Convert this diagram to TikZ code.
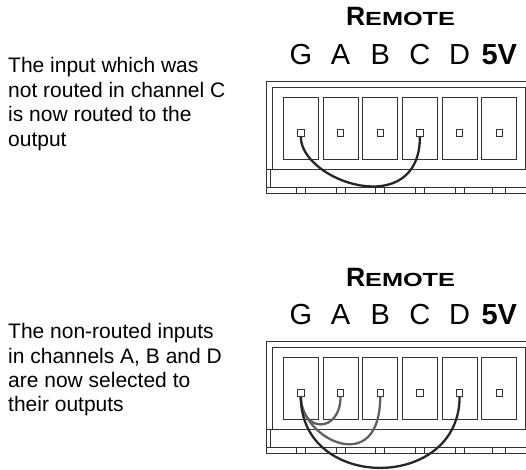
\documentclass[tikz,border=0pt]{standalone}
\usepackage{fontspec}
\setmainfont{Liberation Sans}
\usepackage{graphicx}
\usepackage{tikz}

\begin{document}
\begin{tikzpicture}[x=1pt, y=1pt,
	frame/.style={draw=black!80, line width=0.9pt},
	terminal/.style={draw=black!80, line width=0.9pt, minimum width=35pt, minimum height=61.6pt, inner sep=0pt},
	pin/.style={draw=black!80, fill=white, line width=0.8pt, minimum size=6.5pt, inner sep=0pt},
	wire/.style={draw=black!85, line width=2.3pt},
	greywire/.style={draw=black!62, line width=2.3pt},
	lbl/.style={font=\fontsize{29}{30}\selectfont, inner sep=0pt, anchor=base},
	note/.style={font=\fontsize{21}{24.4}\selectfont, align=left, inner sep=0pt, anchor=north west}]

	\useasboundingbox (0,0) rectangle (526,469);

	% two copies of the remote connector
	\foreach \p/\dy in {U/0, L/-260} {
	\begin{scope}[yshift=\dy pt]
		\draw[frame] (526,387.3) -- (266.7,387.3) -- (266.7,275.7) -- (526,275.7);
		\draw[frame] (272.7,299.7) rectangle (525.5,381.7);
		\draw[frame] (266.7,299.7) -- (272.7,299.7);
		\draw[frame] (266.7,281.7) -- (526,281.7);
		\draw[frame] (270.7,299.7) -- (270.7,281.7);
		\node[inner sep=0pt, anchor=base] (\p title) at (400.5,443)
			{{\fontsize{26.5}{27}\selectfont\bfseries R}{\fontsize{19}{20}\selectfont\bfseries\scalebox{1.33}[1]{EMOTE}}};
		\foreach \n/\txt/\w [count=\i from 0] in {G/G/4.5, A/A/4.5, B/B/4.5, C/C/4.5, D/D/4.5, V/\textbf{5V}/6.5} {
			\pgfmathsetmacro{\cx}{300.8+39.7*\i}
			\node[terminal] (\p t\n) at (\cx,340.5) {};
			\node[pin] (\p p\n) at (\cx,336) {};
			\node[lbl] (\p l\n) at (\cx,404.5) {\txt};
			\draw[frame] (\cx-\w,281.7) -- (\cx-\w,275.7);
			\draw[frame] (\cx+\w,281.7) -- (\cx+\w,275.7);
		}
	\end{scope}
	}

	% wires
	\draw[wire] (UpG.south) .. controls +(0,-45) and +(0,-85) .. (UpC.south);
	\draw[greywire] (LpG.south) .. controls +(0,-37) and +(0,-37) .. (LpA.south);
	\draw[greywire] (LpG.south) .. controls +(0,-42) and +(0,-82) .. (LpB.south);
	\draw[wire] (LpG.south) .. controls +(0,-95) and +(0,-95) .. (LpD.south);

	% notes
	\node[note] (topnote) at (8,411.5) {The input which was\\not routed in channel C\\is now routed to the\\output};
	\node[note] (lownote) at (8,145.8) {The non-routed inputs\\in channels A, B and D\\are now selected to\\their outputs};

\end{tikzpicture}
\end{document}
